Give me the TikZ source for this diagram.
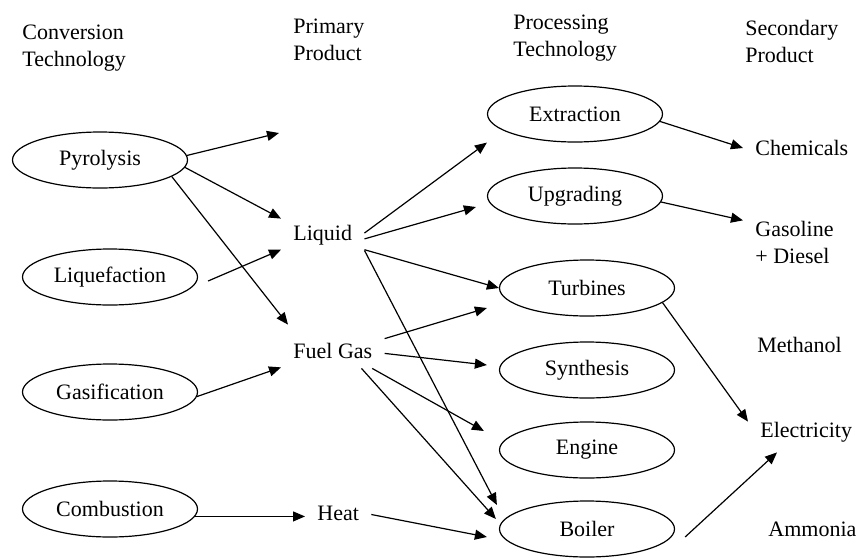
\documentclass[tikz,border=0pt]{standalone}
\usepackage{fontspec}
\setmainfont{Liberation Serif}
\usetikzlibrary{arrows.meta,shapes.geometric}

\begin{document}
\begin{tikzpicture}[font=\fontsize{11}{13.5}\selectfont,>={Triangle[length=6pt,width=5pt]},x=0.5pt,y=-0.5pt]
\tikzset{tech/.style={ellipse,draw,line width=0.6pt,minimum width=87.5pt,minimum height=28pt,inner sep=0pt}, hd/.style={anchor=west,align=left,inner sep=0pt}, prod/.style={anchor=base west,inner xsep=6pt,inner ysep=3pt,text height=7.5pt,text depth=2pt}, sec/.style={anchor=west,align=left,inner xsep=6pt,inner ysep=0pt}, a/.style={->,line width=0.6pt}}
\useasboundingbox (0,0) rectangle (863,558);
% column headings
\node[hd] (hconv) at (22,48) {Conversion\\Technology};
\node[hd] (hprim) at (293,40) {Primary\\Product};
\node[hd] (hproc) at (513,38) {Processing\\Technology};
\node[hd] (hsec) at (745,41) {Secondary\\Product};
% conversion technology
\node[tech] (pyro) at (100,160) {Pyrolysis};
\node[tech] (liqf) at (110,277) {Liquefaction};
\node[tech] (gasi) at (110,392) {Gasification};
\node[tech] (comb) at (110,509) {Combustion};
% primary product
\coordinate (blank) at (279,133);
\node[prod] (liquid) at (281,240) {Liquid};
\node[prod] (fuel) at (281,358) {Fuel Gas};
\node[prod] (heat) at (305,520) {Heat};
% processing technology
\node[tech] (extr) at (575,114) {Extraction};
\node[tech] (upgr) at (575,196) {Upgrading};
\node[tech] (turb) at (587,288) {Turbines};
\node[tech] (synt) at (587,370) {Synthesis};
\node[tech] (engi) at (587,450) {Engine};
\node[tech] (boil) at (587,529) {Boiler};
% secondary product
\node[sec] (chem) at (743,148) {Chemicals};
\node[sec] (gaso) at (743,242) {Gasoline\\+ Diesel};
\node[sec] (meth) at (745,345) {Methanol};
\node[sec] (elec) at (748,432) {Electricity};
\node[sec] (ammo) at (756,529) {Ammonia};
% conversion -> primary
\draw[a] (pyro.3)--(blank);\draw[a] (pyro.-5)--(liquid.north west);\draw[a] (pyro.-13)--([shift={(7,-12)}]fuel.north west);
\draw[a] ([shift={(10,4)}]liqf.east)--(liquid.200);\draw[a] (gasi.-3)--(fuel.196);\draw[a] (comb.-5)--(comb.-5 -| heat.west);
% primary -> processing
\draw[a] (liquid.2)--(extr.west |- extr.south);\draw[a] (liquid.-6)--([shift={(-11,11)}]upgr.west);\draw[a] (liquid.-20)--(turb.west);\draw[a] (liquid.south east)--([shift={(-2,-24)}]boil.west);
\draw[a] (fuel.15)--([shift={(-12,20)}]turb.west);\draw[a] (fuel.-1)--([shift={(-12,-5)}]synt.west);\draw[a] (fuel.-22)--([shift={(-15,-19)}]engi.west);\draw[a] (fuel.-29)--([shift={(-3,-10)}]boil.west);
\draw[a] (heat.east)--([shift={(-12,8)}]boil.west);
% processing -> secondary
\draw[a] (extr.-5)--(chem.west);\draw[a] (upgr.-4)--(gaso.north west);\draw[a] (turb.-11.5)--(elec.north west);\draw[a] ([shift={(10,8)}]boil.east)--([shift={(29,10)}]elec.south west);
\end{tikzpicture}
\end{document}
